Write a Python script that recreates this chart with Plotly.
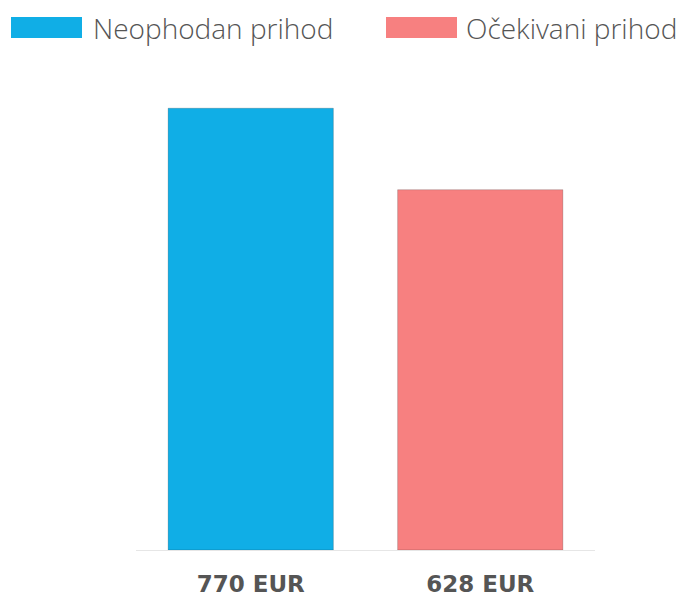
import plotly.graph_objects as go

labels = ["770 EUR", "628 EUR"]
values = [770, 628]
series = ["Neophodan prihod", "Očekivani prihod"]
colors = ["#10AEE6", "#F78080"]

W, H = 685, 598
OFF = 8  # page body margin
# plot area in screen pixels: x 136..595, y 91..550
L = 136 - OFF
R = W - (595 - OFF)
T = 91 - OFF
B = H - (550 - OFF)
pw = W - L - R
ph = H - T - B


def px(x):
    return (x - OFF - L) / pw


def py(y):
    return (H - B - (y - OFF)) / ph


fig = go.Figure(
    go.Bar(
        x=labels,
        y=values,
        marker=dict(color=colors, line=dict(color="rgba(0,0,0,0.18)", width=1)),
        width=0.72,
        hoverinfo="skip",
        showlegend=False,
    )
)

# manual legend
legend_pos = [(11, 82, 91), (386, 457, 464)]
for (x0, x1, tx), name, col in zip(legend_pos, series, colors):
    fig.add_shape(type="rect", xref="paper", yref="paper",
                  x0=px(x0), x1=px(x1), y0=py(38), y1=py(17),
                  fillcolor=col, line=dict(width=0))
    fig.add_annotation(xref="paper", yref="paper", x=px(tx), y=py(28),
                       text=name, showarrow=False, xanchor="left", yanchor="middle",
                       font=dict(family="Open Sans", size=28, color="#555555", weight=300))

fig.update_layout(
    width=W, height=H,
    margin=dict(l=L, r=R, t=T, b=B, autoexpand=False),
    paper_bgcolor="white", plot_bgcolor="white",
    xaxis=dict(showline=True, linecolor="#e6e6e6", linewidth=1, showgrid=False,
               ticks="", ticklabelstandoff=13, automargin=False,
               tickfont=dict(family="DejaVu Sans", size=23, color="#555555", weight="bold"),
               range=[-0.5, 1.5], fixedrange=True),
    yaxis=dict(visible=False, range=[0, 800], fixedrange=True, automargin=False),
    showlegend=False,
)

fig.write_html("out.html", config={"displayModeBar": False})
